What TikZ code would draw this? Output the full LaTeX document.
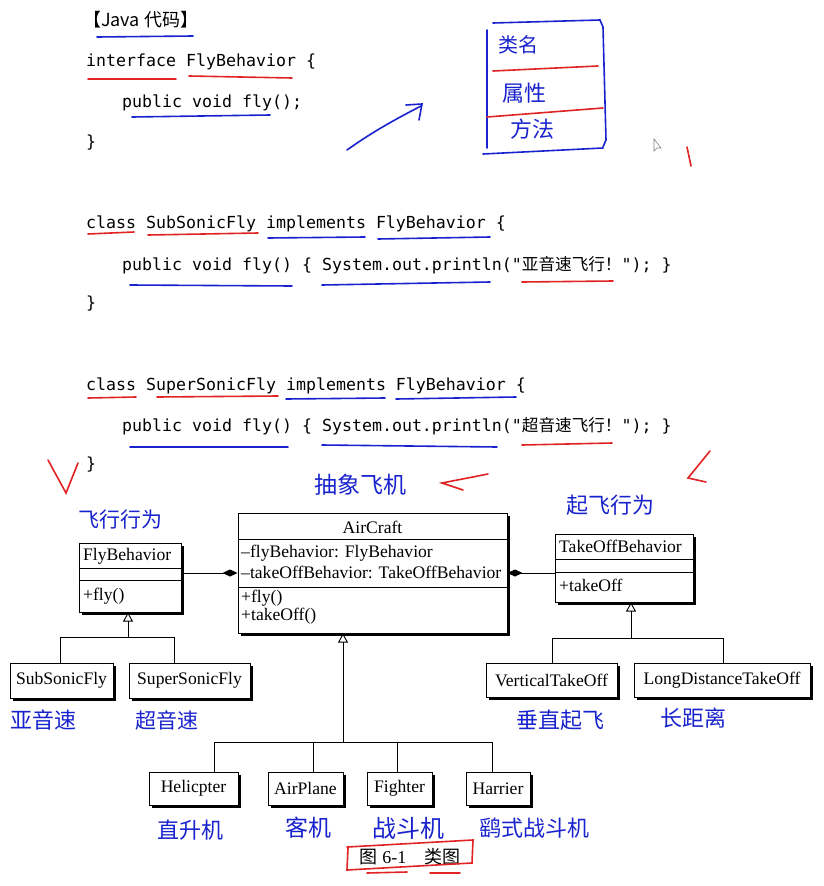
\documentclass[tikz,border=0pt]{standalone}
\usepackage{fontspec}
\setmainfont{Liberation Serif}
\newfontfamily\cjk{Noto Sans CJK SC}
\newfontfamily\codefont{DejaVu Sans Mono}
\usetikzlibrary{arrows.meta,shadows}

\definecolor{penblue}{RGB}{25,35,205}
\definecolor{penred}{RGB}{225,35,35}

\begin{document}
\begin{tikzpicture}[x=1pt, y=-1pt,
		cls/.style={draw, line width=1pt, fill=white, inner sep=0pt,
			drop shadow={shadow xshift=3pt, shadow yshift=-3pt, opacity=1, fill=black}},
		code/.style={anchor=base west, inner sep=0pt, font=\codefont\fontsize{16.6}{18}\selectfont},
		uml/.style={inner sep=0pt, font=\fontsize{17.6}{20}\selectfont},
		hand/.style={inner sep=0pt, text=penblue, font=\cjk\fontsize{#1}{#1}\selectfont},
		ul/.style={line width=1.6pt, draw=#1, line cap=round},
		isa/.style={-{Triangle[open, length=9pt, width=10pt]}, line width=0.9pt},
		comp/.style={-{Diamond[length=15pt, width=7pt]}, line width=0.9pt}
		]
		
		\fill[white] (0,0) rectangle (823,886);
		\useasboundingbox (0,0) rectangle (823,886);
		
		% ==========================================
		% JAVA CODE
		% ==========================================
		\node[anchor=base west, inner sep=0pt, font=\cjk\fontsize{18}{20}\selectfont] (head) at (83,27) {【Java 代码】};
		
		\node[code] (l1) at (86,66) {interface FlyBehavior \{};
		\node[code] (l2) at (122,107) {public void fly();};
		\node[code] (l3) at (86,147) {\}};
		
		\node[code] (l4) at (86,228) {class SubSonicFly implements FlyBehavior \{};
		\node[code] (l5) at (122,270) {public void fly() \{ System.out.println("{\cjk 亚音速飞行！}"); \}};
		\node[code] (l6) at (86,308) {\}};
		
		\node[code] (l7) at (86,390) {class SuperSonicFly implements FlyBehavior \{};
		\node[code] (l8) at (122,431) {public void fly() \{ System.out.println("{\cjk 超音速飞行！}"); \}};
		\node[code] (l9) at (86,469) {\}};
		
		% Pen underlines on the code
		\draw[ul=penblue] (97,37) -- (193,36);
		\draw[ul=penred] (88,79) -- (176,79);
		\draw[ul=penred] (189,76) -- (292,78);
		\draw[ul=penblue] (132,117) -- (270,115);
		
		\draw[ul=penred] (88,234) -- (134,232);
		\draw[ul=penred] (148,235) -- (258,233);
		\draw[ul=penblue] (268,238) -- (365,237);
		\draw[ul=penblue] (378,239) -- (490,237);
		\draw[ul=penblue] (130,285) -- (292,286);
		\draw[ul=penblue] (322,285) -- (490,282);
		\draw[ul=penred] (522,282) -- (613,281);
		
		\draw[ul=penred] (88,398) -- (136,397);
		\draw[ul=penred] (157,397) -- (278,396);
		\draw[ul=penblue] (286,399) -- (385,398);
		\draw[ul=penblue] (396,399) -- (516,397);
		\draw[ul=penblue] (130,447) -- (288,447);
		\draw[ul=penblue] (322,445) -- (497,447);
		\draw[ul=penred] (522,445) -- (612,443);
		
		% ==========================================
		% PEN SKETCH OF A CLASS BOX
		% ==========================================
		\draw[ul=penblue] (347,150) .. controls (375,130) and (400,117) .. (421,106);
		\draw[ul=penblue] (406,105) -- (422,104) -- (419,120);
		
		\draw[ul=penblue] (487,30) -- (487,148);
		\draw[ul=penblue] (493,23) -- (600,20) -- (603,27) -- (606,140) -- (603,147);
		\draw[ul=penblue] (483,154) -- (603,148);
		\draw[ul=penred] (493,71) -- (598,66);
		\draw[ul=penred] (487,117) -- (603,108);
		\node[hand=20] (kname) at (518,45) {类名};
		\node[hand=22] (kattr) at (524,93) {属性};
		\node[hand=22] (kmeth) at (532,129) {方法};
		
		% mouse pointer and stray pen marks
		\draw[gray, fill=white, line width=0.6pt] (654,139) -- (654,151) -- (657,148) -- (661,148) -- cycle;
		\draw[ul=penred] (687,147) -- (691,166);
		\draw[ul=penred] (48,460) -- (66,493) -- (78,463);
		\draw[ul=penred] (488,474) -- (442,483) -- (463,490);
		\draw[ul=penred] (710,451) -- (688,478) -- (706,482);
		
		% ==========================================
		% CLASS DIAGRAM
		% ==========================================
		% strategy interfaces and the context class
		\node[cls, minimum width=102pt, minimum height=69pt] (fly) at (130,577.5) {};
		\node[cls, minimum width=269pt, minimum height=120pt] (air) at (372.5,573) {};
		\node[cls, minimum width=138pt, minimum height=68pt] (toff) at (624,568) {};
		
		\draw[line width=1pt] (fly.west |- 0,568) -- (fly.east |- 0,568);
		\draw[line width=1pt] (fly.west |- 0,580) -- (fly.east |- 0,580);
		\draw[line width=1pt] (air.west |- 0,539) -- (air.east |- 0,539);
		\draw[line width=1pt] (air.west |- 0,587) -- (air.east |- 0,587);
		\draw[line width=1pt] (toff.west |- 0,559) -- (toff.east |- 0,559);
		\draw[line width=1pt] (toff.west |- 0,572) -- (toff.east |- 0,572);
		
		\node[uml, anchor=west] (flyN) at (83,556) {FlyBehavior};
		\node[uml, anchor=west] (flyM) at (83,596) {+fly()};
		\node[uml] (airN) at (372.5,527) {AirCraft};
		\node[uml, anchor=west] (airA1) at (241,553) {\textendash flyBehavior: FlyBehavior};
		\node[uml, anchor=west] (airA2) at (241,572) {\textendash takeOffBehavior: TakeOffBehavior};
		\node[uml, anchor=west] (airM1) at (241,598) {+fly()};
		\node[uml, anchor=west] (airM2) at (241,616) {+takeOff()};
		\node[uml, anchor=west] (toffN) at (559,546) {TakeOffBehavior};
		\node[uml, anchor=west] (toffM) at (559,585) {+takeOff};
		
		% composition
		\draw[comp] (fly.east |- air.west) -- (air.west);
		\draw[comp] (toff.west |- air.east) -- (air.east);
		
		% concrete classes
		\foreach \nm/\xa/\ya/\xb/\yb/\txt in {
				sub/10/663/113/698/SubSonicFly,
				super/129/663/250/698/SuperSonicFly,
				vert/486/663/617/697/VerticalTakeOff,
				longd/634/663/810/697/LongDistanceTakeOff,
				heli/149/772/238/805/Helicpter,
				plane/268/772/343/805/AirPlane,
				fighter/367/772/432/805/Fighter,
				harrier/466/772/530/805/Harrier} {
			\node[cls, minimum width={\xb-\xa}, minimum height={\yb-\ya}] (\nm) at ({(\xa+\xb)/2},{(\ya+\yb)/2}) {};
			\node[uml] at (\nm) {\txt};
		}
		
		% inheritance
		\coordinate (flyJ) at (128,637);
		\coordinate (flyL) at (60,637);
		\coordinate (flyR) at (174,637);
		\draw[isa] (flyJ) -- (flyJ |- fly.south);
		\draw[line width=0.9pt] (flyL) -- (flyR);
		\draw[line width=0.9pt] (flyL) -- (flyL |- sub.north);
		\draw[line width=0.9pt] (flyR) -- (flyR |- super.north);
		
		\coordinate (toffJ) at (631,638);
		\coordinate (toffL) at (552,638);
		\coordinate (toffR) at (723,638);
		\draw[isa] (toffJ) -- (toffJ |- toff.south);
		\draw[line width=0.9pt] (toffL) -- (toffR);
		\draw[line width=0.9pt] (toffL) -- (toffL |- vert.north);
		\draw[line width=0.9pt] (toffR) -- (toffR |- longd.north);
		
		\coordinate (airJ) at (343,742);
		\draw[isa] (airJ) -- (airJ |- air.south);
		\draw[line width=0.9pt] (214,742) -- (492,742);
		\foreach \x/\nm in {214/heli, 313/plane, 397/fighter, 492/harrier} {
			\draw[line width=0.9pt] (\x,742) -- (\x,742 |- \nm.north);
		}
		
		% ==========================================
		% PEN NOTES ON THE DIAGRAM
		% ==========================================
		\node[hand=21] (nfly) at (120,520) {飞行行为};
		\node[hand=23] (nair) at (360,485) {抽象飞机};
		\node[hand=22] (ntoff) at (610,505) {起飞行为};
		\node[hand=22] (nsub) at (43,720) {亚音速};
		\node[hand=21] (nsuper) at (167,720) {超音速};
		\node[hand=22] (nvert) at (560,720) {垂直起飞};
		\node[hand=22] (nlong) at (693,718) {长距离};
		\node[hand=22] (nheli) at (190,830) {直升机};
		\node[hand=23] (nplane) at (308,828) {客机};
		\node[hand=24] (nfight) at (408,828) {战斗机};
		\node[hand=22] (nharr) at (534,828) {鹞式战斗机};
		
		% ==========================================
		% CAPTION
		% ==========================================
		\node[inner sep=0pt, font=\fontsize{18}{20}\selectfont] (cap) at (410,857) {{\cjk 图} 6-1\quad{\cjk 类图}};
		\draw[ul=penred] (348,848) -- (347,870) -- (472,863) -- (473,840) -- (347,847);
		\draw[ul=penred] (367,873) -- (407,872);
		\draw[ul=penred] (430,873) -- (460,873);
		
	\end{tikzpicture}
\end{document}
